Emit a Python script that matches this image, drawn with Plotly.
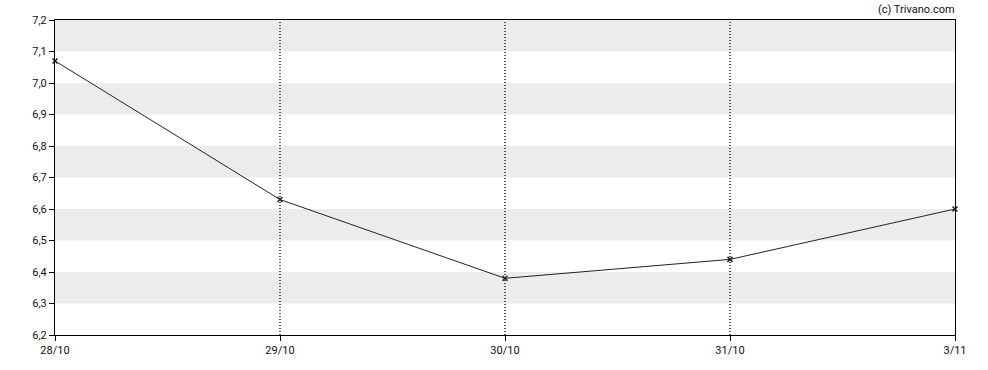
import plotly.graph_objects as go

dates = ["28/10", "29/10", "30/10", "31/10", "3/11"]
values = [7.07, 6.63, 6.38, 6.44, 6.60]
y_ticks = [6.2, 6.3, 6.4, 6.5, 6.6, 6.7, 6.8, 6.9, 7.0, 7.1, 7.2]
y_labels = [f"{v:.1f}".replace(".", ",") for v in y_ticks]

x_idx = list(range(len(dates)))

fig = go.Figure()
fig.add_trace(go.Scatter(
    x=x_idx, y=values, mode="lines+markers",
    line=dict(color="#222222", width=1),
    marker=dict(symbol="x-thin", size=5, color="#222222",
                line=dict(color="#222222", width=1.5)),
    cliponaxis=False,
    hoverinfo="skip", showlegend=False,
))

# alternating gray bands
shapes = []
for i in range(len(y_ticks) - 1):
    if (len(y_ticks) - 2 - i) % 2 == 0:
        shapes.append(dict(type="rect", xref="paper", yref="y", x0=0, x1=1,
                           y0=y_ticks[i], y1=y_ticks[i + 1],
                           fillcolor="#ececec", line=dict(width=0), layer="below"))
# dotted vertical lines
for xi in x_idx[1:-1]:
    shapes.append(dict(type="line", xref="x", yref="paper", x0=xi, x1=xi, y0=0, y1=1,
                       line=dict(color="#000000", width=1.3, dash="1px,2px"), layer="below"))

fig.update_layout(
    width=988, height=370,
    margin=dict(l=55, r=33, t=20, b=35),
    plot_bgcolor="white", paper_bgcolor="white",
    font=dict(family="Roboto, DejaVu Sans, sans-serif", size=11, color="#111111"),
    shapes=shapes,
    xaxis=dict(range=[0, len(dates) - 1], tickvals=x_idx, ticktext=dates,
               showgrid=False, zeroline=False, showline=True, linecolor="black",
               linewidth=1, mirror=True, ticks="outside", ticklen=5,
               tickcolor="black", fixedrange=True),
    yaxis=dict(range=[6.2, 7.2], tickvals=y_ticks, ticktext=y_labels,
               showgrid=False, zeroline=False, showline=True, linecolor="black",
               linewidth=1, mirror=True, ticks="outside", ticklen=5,
               tickcolor="black", fixedrange=True),
    annotations=[dict(text="(c) Trivano.com", xref="paper", yref="paper",
                      x=1.002, y=1.0, xanchor="right", yanchor="bottom",
                      yshift=2, showarrow=False,
                      font=dict(family="Roboto, sans-serif", size=11, color="#111111"))],
)

fig.write_html("out.html")
